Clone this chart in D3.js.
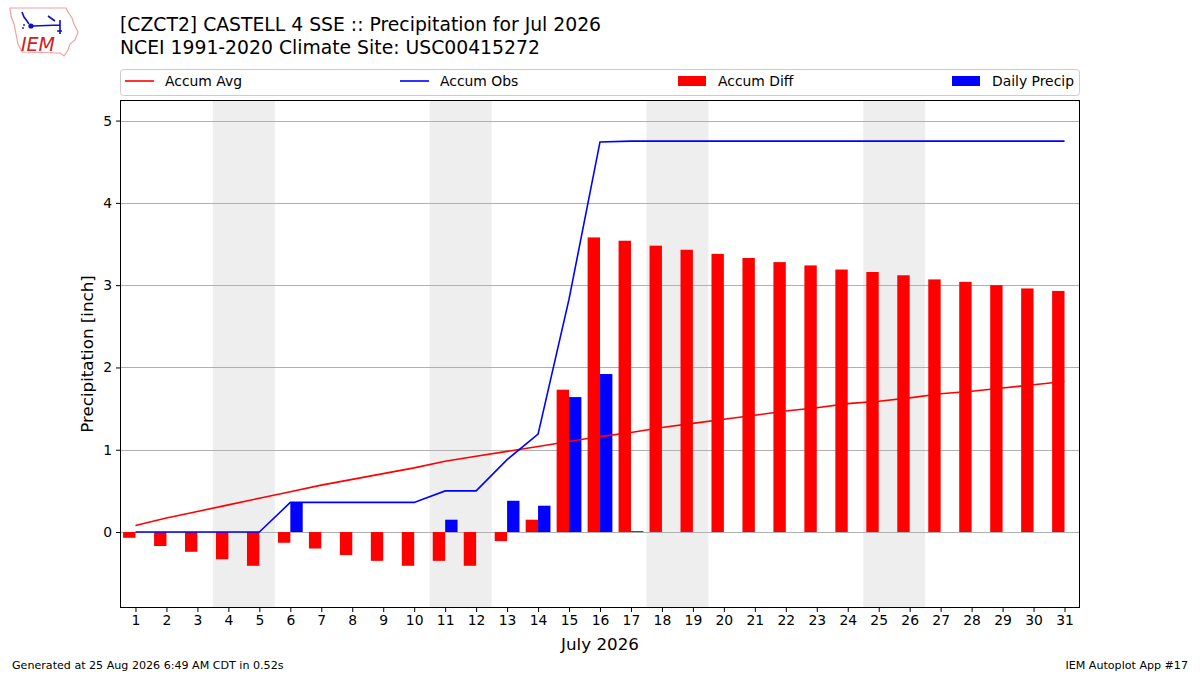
<!DOCTYPE html>
<html>
<head>
<meta charset="utf-8">
<script src="https://cdn.jsdelivr.net/npm/d3@7"></script>
<style>
  body { margin: 0; background: #fff; }
  text { font-family: "DejaVu Sans", sans-serif; }
</style>
</head>
<body>
<div id="chart"></div>
<script>
// daily values, July 2026
var days = d3.range(1, 32);
var accumAvg = [0.08, 0.17, 0.25, 0.33, 0.41, 0.49, 0.57, 0.64, 0.71, 0.78,
                0.86, 0.92, 0.98, 1.04, 1.10, 1.16, 1.21, 1.27, 1.32, 1.37,
                1.42, 1.47, 1.51, 1.56, 1.59, 1.63, 1.68, 1.71, 1.75, 1.79, 1.83];
var accumObs = [0, 0, 0, 0, 0, 0.36, 0.36, 0.36, 0.36, 0.36,
                0.50, 0.50, 0.88, 1.19, 2.83, 4.74, 4.75, 4.75, 4.75, 4.75,
                4.75, 4.75, 4.75, 4.75, 4.75, 4.75, 4.75, 4.75, 4.75, 4.75, 4.75];
var accumDiff = [-0.07, -0.17, -0.24, -0.33, -0.41, -0.13, -0.20, -0.28, -0.35, -0.41,
                 -0.35, -0.41, -0.11, 0.15, 1.73, 3.58, 3.54, 3.48, 3.43, 3.38,
                 3.33, 3.28, 3.24, 3.19, 3.16, 3.12, 3.07, 3.04, 3.00, 2.96, 2.93];
var dailyPrecip = [0, 0, 0, 0, 0, 0.36, 0, 0, 0, 0,
                   0.15, 0, 0.38, 0.32, 1.64, 1.92, 0.01, 0, 0, 0,
                   0, 0, 0, 0, 0, 0, 0, 0, 0, 0, 0];
var weekends = [4, 11, 18, 25]; // saturdays
var yTicks = [0, 1, 2, 3, 4, 5];

var W = 1200, H = 675;
var box = { left: 120, right: 1080, top: 100, bottom: 608 };

var svg = d3.select('#chart').append('svg')
            .attr('width', W)
            .attr('height', H);

var x = d3.scaleLinear().domain([0.5, 31.5]).range([box.left, box.right]);
var y = d3.scaleLinear().domain([-0.923, 5.25]).range([box.bottom, box.top]);
var barW = x(0.4) - x(0);

// weekend shading
svg.selectAll('rect.wknd').data(weekends).enter().append('rect')
  .attr('class', 'wknd')
  .attr('x', function(d) { return x(d - 0.5); })
  .attr('y', box.top)
  .attr('width', function(d) { return x(d + 1.5) - x(d - 0.5); })
  .attr('height', box.bottom - box.top)
  .attr('fill', '#eeeeee');

// grid
svg.selectAll('line.grid').data(yTicks).enter().append('line')
  .attr('x1', box.left).attr('x2', box.right)
  .attr('y1', function(d) { return Math.round(y(d)) + 0.5; })
  .attr('y2', function(d) { return Math.round(y(d)) + 0.5; })
  .attr('stroke', '#b0b0b0')
  .attr('stroke-width', 1);

// accum diff bars (left of day)
svg.selectAll('rect.diff').data(days).enter().append('rect')
  .attr('x', function(d) { return x(d) - barW; })
  .attr('width', barW)
  .attr('y', function(d, i) { return y(Math.max(0, accumDiff[i])); })
  .attr('height', function(d, i) { return Math.abs(y(accumDiff[i]) - y(0)); })
  .attr('fill', '#ff0000');

// daily precip bars (right of day)
svg.selectAll('rect.daily').data(days).enter().append('rect')
  .attr('x', function(d) { return x(d); })
  .attr('width', barW)
  .attr('y', function(d, i) { return y(dailyPrecip[i]); })
  .attr('height', function(d, i) { return y(0) - y(dailyPrecip[i]); })
  .attr('fill', '#0000ff');

var avgLine = d3.line()
  .x(function(d) { return x(d); })
  .y(function(d, i) { return y(accumAvg[i]); });
var obsLine = d3.line()
  .x(function(d) { return x(d); })
  .y(function(d, i) { return y(accumObs[i]); });

svg.append('path').datum(days)
  .attr('d', avgLine)
  .attr('fill', 'none')
  .attr('stroke', '#ff0000')
  .attr('stroke-width', 1.6);
svg.append('path').datum(days)
  .attr('d', obsLine)
  .attr('fill', 'none')
  .attr('stroke', '#0000ff')
  .attr('stroke-width', 1.6);

// axes
var xAxis = d3.axisBottom(x).tickValues(days).tickSize(4).tickPadding(3);
var yAxis = d3.axisLeft(y).tickValues(yTicks).tickFormat(d3.format('d'))
              .tickSize(4).tickPadding(4);

var gx = svg.append('g')
  .attr('transform', 'translate(0,' + box.bottom + ')')
  .call(xAxis);
var gy = svg.append('g')
  .attr('transform', 'translate(' + box.left + ',0)')
  .call(yAxis);
[gx, gy].forEach(function(g) {
  g.select('.domain').remove();
  g.selectAll('text').attr('font-size', 13.9).attr('fill', '#000')
    .attr('font-family', '"DejaVu Sans", sans-serif');
  g.selectAll('line').attr('stroke', '#000');
});

svg.append('rect')
  .attr('x', box.left + 0.5).attr('y', box.top + 0.5)
  .attr('width', box.right - box.left - 1)
  .attr('height', box.bottom - box.top - 1)
  .attr('fill', 'none')
  .attr('stroke', '#000')
  .attr('stroke-width', 1);

svg.append('text')
  .attr('transform', 'translate(93,' + (box.top + box.bottom) / 2 + ') rotate(-90)')
  .attr('text-anchor', 'middle')
  .attr('font-size', 16.7)
  .text('Precipitation [inch]');

svg.append('text')
  .attr('x', (box.left + box.right) / 2)
  .attr('y', 650)
  .attr('text-anchor', 'middle')
  .attr('font-size', 16.7)
  .text('July 2026');

// titles
svg.append('text').attr('x', 120).attr('y', 31).attr('font-size', 18.8)
  .text('[CZCT2] CASTELL 4 SSE :: Precipitation for Jul 2026');
svg.append('text').attr('x', 120).attr('y', 54).attr('font-size', 18.8)
  .text('NCEI 1991-2020 Climate Site: USC00415272');

// legend
var legend = svg.append('g');
legend.append('rect')
  .attr('x', 120.5).attr('y', 69.5)
  .attr('width', 959).attr('height', 26)
  .attr('rx', 3)
  .attr('fill', '#fff')
  .attr('stroke', '#cccccc');
var legItems = [
  { label: 'Accum Avg', color: '#ff0000', kind: 'line', x: 125 },
  { label: 'Accum Obs', color: '#0000ff', kind: 'line', x: 400 },
  { label: 'Accum Diff', color: '#ff0000', kind: 'patch', x: 678 },
  { label: 'Daily Precip', color: '#0000ff', kind: 'patch', x: 952 }
];
legItems.forEach(function(it) {
  if (it.kind === 'line') {
    legend.append('line')
      .attr('x1', it.x).attr('x2', it.x + 29)
      .attr('y1', 81).attr('y2', 81)
      .attr('stroke', it.color).attr('stroke-width', 1.6);
  } else {
    legend.append('rect')
      .attr('x', it.x).attr('y', 76)
      .attr('width', 28).attr('height', 10)
      .attr('fill', it.color);
  }
  legend.append('text')
    .attr('x', it.x + 40).attr('y', 86)
    .attr('font-size', 13.9)
    .text(it.label);
});

// footer
svg.append('text').attr('x', 12).attr('y', 669).attr('font-size', 11.1)
  .text('Generated at 25 Aug 2026 6:49 AM CDT in 0.52s');
svg.append('text').attr('x', 1188).attr('y', 669).attr('font-size', 11.1)
  .attr('text-anchor', 'end')
  .text('IEM Autoplot App #17');

// IEM logo, rough
var logo = svg.append('g');
logo.append('path')
  .attr('d', 'M10,8 L66,8 L68,12 L72,18 L74,24 L78,32 L75,40 L70,44 L68,50 L64,56 L60,53 L22,52 L18,44 L16,34 L14,24 L11,16 Z')
  .attr('fill', 'none')
  .attr('stroke', '#f2a0a0')
  .attr('stroke-width', 1.2);
logo.append('path')
  .attr('d', 'M33,26 L60,25 M60,20 L60,34 M57,31 L62,31 M48,16 L55,21 M22,12 L24,17 L27,21 L29,24')
  .attr('fill', 'none')
  .attr('stroke', '#1010c0')
  .attr('stroke-width', 1.6);
logo.append('circle').attr('cx', 31).attr('cy', 26).attr('r', 2.6).attr('fill', '#1010c0');
logo.append('circle').attr('cx', 24).attr('cy', 25).attr('r', 0.9).attr('fill', '#1010c0');
logo.append('circle').attr('cx', 23).attr('cy', 28).attr('r', 0.9).attr('fill', '#1010c0');
logo.append('text')
  .attr('x', 21).attr('y', 51)
  .attr('font-family', '"Liberation Serif", serif')
  .attr('font-style', 'italic')
  .attr('font-size', 19)
  .attr('fill', '#d02020')
  .text('IEM');
</script>
</body>
</html>
